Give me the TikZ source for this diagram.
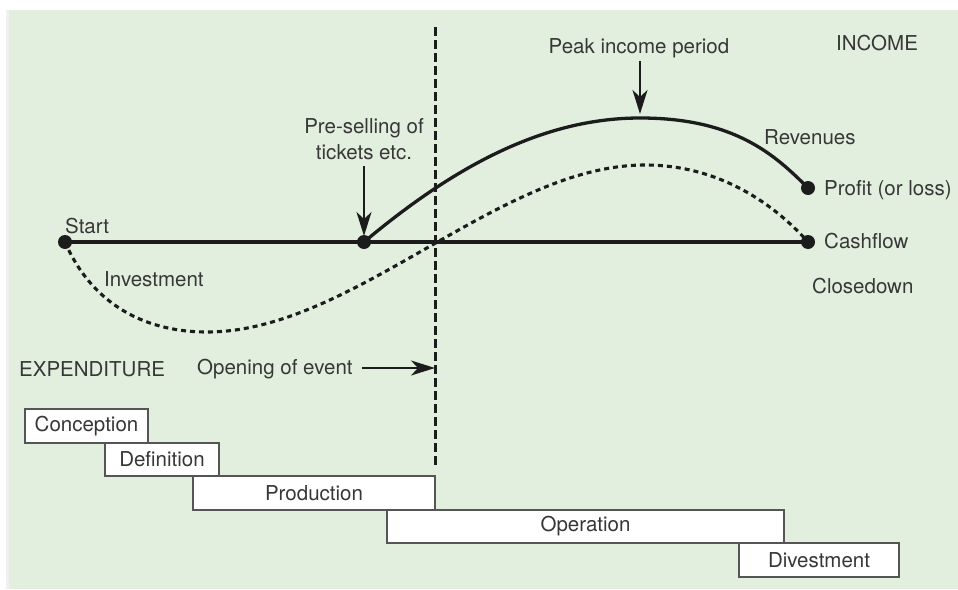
\documentclass[tikz,border=0pt]{standalone}
\usepackage{fontspec}
\setmainfont{TeX Gyre Heros}
\usetikzlibrary{arrows.meta}
\definecolor{panel}{RGB}{226,239,223}
\definecolor{ink}{RGB}{28,28,28}
\definecolor{txt}{RGB}{55,55,55}
\definecolor{boxline}{RGB}{85,85,85}
\begin{document}
\begin{tikzpicture}[x=1pt,y=-1pt,
  every node/.style={font=\fontsize{20.5}{24}\selectfont, text=txt, inner sep=0pt},
  dot/.style={circle, fill=ink, minimum size=14pt},
  solidline/.style={draw=ink, line width=3.3pt},
  cashline/.style={draw=ink, line width=3.1pt, dash pattern=on 5pt off 4pt},
  eventline/.style={draw=ink, line width=3pt, dash pattern=on 8.5pt off 4.5pt},
  pointer/.style={draw=ink, line width=2.3pt, -{Stealth[length=24pt,width=15pt,inset=7pt]}},
  phase/.style={draw=boxline, line width=1.6pt, fill=white, minimum height=33.5pt},
  lbl/.style={anchor=base west}]
% page and panel
\useasboundingbox (0,0) rectangle (958,589);
\fill[white] (0,0) rectangle (958,589);
\fill[black!6] (6,10) rectangle (9,589);
\fill[panel] (9,10) rectangle (958,589);

% event markers on the time axis
\node[dot] (start) at (65,242) {};
\node[dot] (presell) at (364,242) {};
\node[dot] (close) at (808,242) {};
\node[dot] (profit) at (808,188) {};
\coordinate (evtop) at (435,27);
\coordinate (evbot) at (435,468);
\coordinate (revpeak) at (640,118);
\coordinate (cashlow) at (207,332);
\coordinate (cashpeak) at (645,165);

% opening of the event
\draw[eventline] (evtop) -- (evbot);

% time axis
\draw[solidline] (start.center) -- (close.center);

% revenue curve
\draw[solidline] (presell.center) .. controls (450,170) and (540,118) .. (revpeak)
  .. controls (735,118) and (775,155) .. (profit.center);

% cashflow curve
\draw[cashline] (start.center) .. controls (90,300) and (140,332) .. (cashlow)
  .. controls (353,332) and (499,165) .. (cashpeak)
  .. controls (720,165) and (775,205) .. (close.center);

% labels
\node[lbl] (tstart) at (65,233) {Start};
\node[lbl] (tinv) at (104,286) {Investment};
\node[anchor=base] (tpre1) at (364,133) {Pre-selling of};
\node[anchor=base] (tpre2) at (364,159) {tickets etc.};
\node[anchor=base] (tpeak) at (639,53) {Peak income period};
\node[lbl] (tinc) at (836,50) {INCOME};
\node[lbl] (trev) at (764,144) {Revenues};
\node[lbl] (tprof) at (824,195) {Profit (or loss)};
\node[lbl] (tcash) at (824,248) {Cashflow};
\node[lbl] (tclose) at (812,293) {Closedown};
\node[lbl] (texp) at (19,376) {EXPENDITURE};
\node[lbl] (topen) at (197,374) {Opening of event};

% pointers
\coordinate (preA) at (364,166);
\coordinate (preB) at (364,236);
\draw[pointer] (preA) -- (preB);
\coordinate (peakA) at (640,61);
\coordinate (peakB) at (640,114);
\draw[pointer] (peakA) -- (peakB);
\coordinate (openA) at (362,368);
\coordinate (openB) at (435,368);
\draw[pointer] (openA) -- (openB);

% project phases
\node[phase, minimum width=123pt] (conc) at (86.5,426) {Conception};
\node[phase, minimum width=114pt] (defn) at (162,459.5) {Definition};
\node[phase, minimum width=242pt] (prod) at (314,493) {Production};
\node[phase, minimum width=397pt] (oper) at (585.5,526.5) {Operation};
\node[phase, minimum width=160pt] (dive) at (819,560) {Divestment};
\end{tikzpicture}
\end{document}
